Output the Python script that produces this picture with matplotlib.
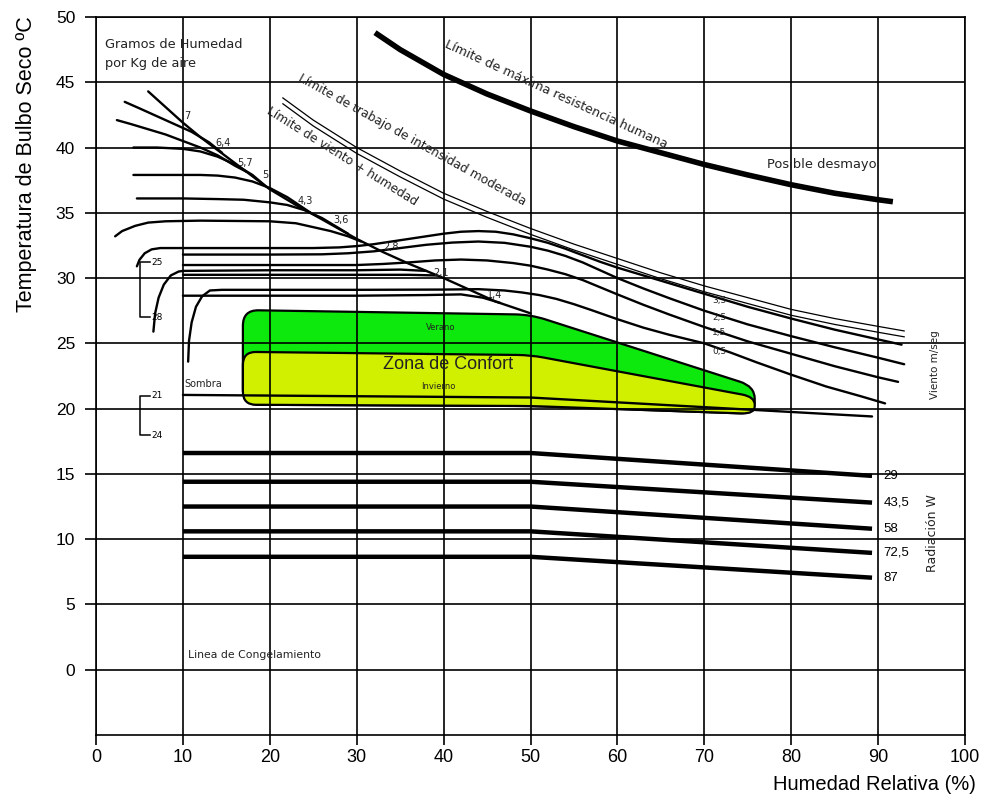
import numpy as np
import matplotlib
matplotlib.use("Agg")
import matplotlib.pyplot as plt
from matplotlib.path import Path
from matplotlib.patches import PathPatch
from matplotlib import font_manager

# ---------------- datos ----------------
hr_ticks = list(range(0, 101, 10))
t_ticks = list(range(0, 51, 5))

# limite de maxima resistencia humana (linea gruesa)
max_res_x = [32.1, 35, 40, 45, 50, 55, 60, 65, 70, 75, 80, 85, 90, 91.7]
max_res_y = [48.8, 47.5, 45.6, 44.1, 42.8, 41.6, 40.5, 39.6, 38.7, 37.9, 37.15, 36.5, 36.0, 35.85]

# limite de trabajo de intensidad moderada (linea doble)
trabajo_x = [21.5, 25, 30, 35, 40, 45, 50, 55, 60, 65, 70, 75, 80, 85, 90, 93]
trabajo_y = [43.8, 42.1, 40.0, 38.2, 36.5, 35.1, 33.8, 32.6, 31.5, 30.4, 29.4, 28.5, 27.6, 26.9, 26.3, 25.95]

# gramos de humedad por kg de aire
hum_7_x = [6.0, 8, 10, 12, 15, 18, 20, 23, 26, 30, 33, 36, 40, 43, 46, 50]
hum_7_y = [44.3, 43.1, 41.9, 40.8, 39.3, 37.8, 36.8, 35.6, 34.5, 33.0, 32.0, 31.1, 30.0, 29.1, 28.2, 27.3]
hum_64_x = [3.3, 5, 7, 9, 11, 13, 14.5]
hum_64_y = [43.5, 43.0, 42.4, 41.8, 41.2, 40.4, 39.6]
hum_57_x = [2.4, 4, 6, 8, 10, 12, 14, 16, 17.3]
hum_57_y = [42.1, 41.8, 41.4, 41.0, 40.5, 40.0, 39.4, 38.6, 38.15]
hum_5_x = [4.3, 7, 10, 12, 14, 16, 18, 19.5]
hum_5_y = [40.0, 40.0, 39.9, 39.7, 39.3, 38.7, 37.9, 37.05]
hum_43_x = [4.3, 8, 12, 14, 16, 18, 20, 22, 24.7]
hum_43_y = [37.9, 37.9, 37.9, 37.85, 37.7, 37.4, 36.9, 36.2, 35.0]
hum_36_x = [4.7, 10, 14, 17, 20, 22, 24, 26, 28, 29]
hum_36_y = [36.1, 36.1, 36.05, 36.0, 35.8, 35.6, 35.2, 34.6, 33.8, 33.4]
hum_28_x = [2.2, 3, 4.5, 6, 8, 12, 20, 23, 25, 27, 29, 30.5]
hum_28_y = [33.2, 33.6, 34.0, 34.25, 34.35, 34.4, 34.35, 34.2, 33.9, 33.6, 33.2, 32.8]
hum_labels = ["7", "6,4", "5,7", "5", "4,3", "3,6", "2,8", "2,1", "1,4"]
hum_label_x = [10.2, 13.7, 16.3, 19.1, 23.2, 27.3, 33.0, 38.8, 45.0]
hum_label_y = [42.4, 40.35, 38.8, 37.9, 35.9, 34.45, 32.4, 30.4, 28.7]

# lineas de viento (m/seg)
viento_1_x = [4.7, 5.0, 5.6, 6.4, 7.4, 15, 25, 28, 30, 32, 34, 36, 38, 40, 42, 44, 46, 48, 50,
              52, 54, 56, 58, 60, 63, 66, 70, 75, 80, 85, 90, 92.7]
viento_1_y = [30.9, 31.4, 31.9, 32.2, 32.3, 32.3, 32.3, 32.35, 32.45, 32.6, 32.8, 33.0, 33.2, 33.4,
              33.55, 33.6, 33.55, 33.35, 33.05, 32.7, 32.25, 31.75, 31.25, 30.8, 30.2, 29.6, 28.8,
              27.8, 26.9, 26.05, 25.3, 24.9]
viento_2_x = [10, 20, 26, 29, 32, 35, 38, 41, 44, 47, 50, 52, 54, 56, 58, 60, 63, 66, 70, 75, 80,
              85, 90, 93]
viento_2_y = [31.8, 31.8, 31.82, 31.9, 32.05, 32.3, 32.55, 32.72, 32.8, 32.7, 32.4, 32.1, 31.7,
              31.2, 30.6, 30.0, 29.2, 28.45, 27.5, 26.45, 25.55, 24.7, 23.9, 23.4]
viento_3_x = [10, 30, 33, 36, 39, 42, 45, 48, 50, 52, 54, 56, 58, 60, 63, 66, 70, 75, 80, 85, 90,
              92.3]
viento_3_y = [31.0, 31.0, 31.08, 31.2, 31.35, 31.42, 31.35, 31.15, 30.95, 30.65, 30.3, 29.85, 29.3,
              28.75, 27.95, 27.2, 26.25, 25.15, 24.2, 23.25, 22.4, 22.05]
viento_4_x = [10.6, 10.7, 11.0, 11.5, 12.2, 13.1, 14.5, 30, 40, 44, 47, 49, 51, 53, 55, 57, 60, 63,
              66, 70, 73, 76, 80, 84, 88, 90.8]
viento_4_y = [23.6, 25.2, 26.6, 27.8, 28.6, 29.05, 29.1, 29.1, 29.12, 29.15, 29.05, 28.9, 28.7,
              28.4, 28.0, 27.55, 26.85, 26.2, 25.65, 25.0, 24.3, 23.55, 22.6, 21.7, 20.95, 20.4]
viento_b_x = [6.6, 6.8, 7.2, 7.8, 8.6, 9.5, 10, 20, 30, 35, 38]
viento_b_y = [25.9, 27.3, 28.5, 29.5, 30.2, 30.5, 30.55, 30.6, 30.6, 30.65, 30.55]
viento_c_x = [10, 20, 30, 36, 39.2]
viento_c_y = [30.25, 30.25, 30.25, 30.25, 30.2]
viento_d_x = [10, 20, 30, 38, 42, 44.5, 46.5]
viento_d_y = [28.65, 28.65, 28.65, 28.7, 28.75, 28.5, 28.1]
viento_labels = ["3,5", "2,5", "1,5", "0,5"]
viento_label_y = [28.25, 26.95, 25.8, 24.4]

# zona de confort
verano_x = [16.9, 16.9, 50, 75.8, 75.8, 50]
verano_y = [20.3, 27.55, 27.2, 21.7, 19.6, 20.2]
invierno_x = [16.9, 16.9, 50, 75.8, 75.8, 50]
invierno_y = [20.3, 24.35, 24.1, 20.9, 19.6, 20.2]
sombra_x = [10, 50, 89.3]
sombra_y = [21.05, 20.85, 19.4]

# radiacion W
rad_labels = ["29", "43,5", "58", "72,5", "87"]
rad_x = [10, 50, 89.3]
rad_y = [[16.6, 16.6, 14.85],
         [14.4, 14.4, 12.8],
         [12.5, 12.5, 10.8],
         [10.6, 10.6, 8.95],
         [8.65, 8.65, 7.05]]

# ---------------- figura ----------------
names = {f.name for f in font_manager.fontManager.ttflist}
narrow = "Liberation Sans Narrow" if "Liberation Sans Narrow" in names else "Liberation Sans"

fig = plt.figure(figsize=(9.84, 8.01), dpi=100)
ax = fig.add_axes([0.0976, 0.0824, 0.8831, 0.8964])
ax.set_xlim(0, 100)
ax.set_ylim(-5, 50)
ax.set_xticks(hr_ticks)
ax.set_yticks(t_ticks)
ax.grid(True, color="black", lw=1.2)
ax.set_axisbelow(False)
for s in ax.spines.values():
    s.set_linewidth(1.2)
ax.tick_params(axis="y", length=8, width=1.2, pad=7, labelsize=12.5)
ax.tick_params(axis="x", length=7, width=1.2, pad=3, labelsize=13)
for lab in ax.get_yticklabels():
    lab.set_fontfamily("Liberation Sans")
for lab in ax.get_xticklabels():
    lab.set_fontfamily(narrow)

ax.set_ylabel("Temperatura de Bulbo Seco ºC", fontsize=15.5, family="Liberation Sans")
ax.yaxis.set_label_coords(-0.068, 0.795)
ax.set_xlabel("Humedad Relativa (%)", fontsize=14.5, family="Liberation Sans", ha="right")
ax.xaxis.set_label_coords(1.012, -0.056)


def rounded_patch(xs, ys, r=1.5, ky=1.5, **kw):
    # poligono con esquinas redondeadas (y escalado para aspecto de pixel)
    pts = np.column_stack([xs, np.asarray(ys, float) * ky])
    n = len(pts)
    verts, codes = [], []
    for i in range(n):
        p0, p1, p2 = pts[i - 1], pts[i], pts[(i + 1) % n]
        d1, d2 = p0 - p1, p2 - p1
        a = p1 + d1 * min(0.45, r / np.hypot(*d1))
        b = p1 + d2 * min(0.45, r / np.hypot(*d2))
        verts += [a, p1, b]
        codes += [Path.LINETO, Path.CURVE3, Path.CURVE3]
    codes[0] = Path.MOVETO
    verts.append(verts[0])
    codes.append(Path.CLOSEPOLY)
    verts = np.array(verts)
    verts[:, 1] /= ky
    return PathPatch(Path(verts, codes), **kw)


ax.add_patch(rounded_patch(verano_x, verano_y, r=1.8, facecolor="#0DE80D",
                           edgecolor="black", lw=1.6, zorder=1))
ax.add_patch(rounded_patch(invierno_x, invierno_y, r=1.5, facecolor="#D0F000",
                           edgecolor="black", lw=1.6, zorder=1.1))

thin = dict(color="black", lw=1.7, solid_capstyle="round", solid_joinstyle="round", zorder=2)
for xs, ys in [(hum_7_x, hum_7_y), (hum_64_x, hum_64_y), (hum_57_x, hum_57_y),
               (hum_5_x, hum_5_y), (hum_43_x, hum_43_y), (hum_36_x, hum_36_y),
               (hum_28_x, hum_28_y)]:
    ax.plot(xs, ys, **thin)
for xs, ys in [(viento_1_x, viento_1_y), (viento_2_x, viento_2_y),
               (viento_3_x, viento_3_y), (viento_4_x, viento_4_y),
               (viento_b_x, viento_b_y), (viento_c_x, viento_c_y),
               (viento_d_x, viento_d_y)]:
    ax.plot(xs, ys, **thin)
ax.plot(sombra_x, sombra_y, **thin)

ax.plot(max_res_x, max_res_y, color="black", lw=4, solid_capstyle="butt",
        solid_joinstyle="round", zorder=2)
ax.plot(trabajo_x, trabajo_y, color="black", lw=0.9, zorder=2)
ax.plot(trabajo_x, [v - 0.45 for v in trabajo_y], color="black", lw=0.9, zorder=2)

for ys in rad_y:
    ax.plot(rad_x, ys, color="black", lw=3.2, solid_capstyle="butt", zorder=2)
for lab, ys in zip(rad_labels, rad_y):
    ax.text(90.6, ys[-1], lab, fontsize=9.5, family="Liberation Sans", ha="left", va="center")

# corchetes 25-28 y 21-24
for top, bot in [(31.2, 27.0), (21.0, 17.95)]:
    ax.plot([6.2, 5.1, 5.1, 6.2], [top, top, bot, bot], color="black", lw=1.1, zorder=2)
for lab, yy in [("25", 31.2), ("28", 27.0), ("21", 21.0), ("24", 17.95)]:
    ax.text(6.4, yy, lab, fontsize=6.5, ha="left", va="center")

txt = "#222222"
for lab, xx, yy in zip(hum_labels, hum_label_x, hum_label_y):
    ax.text(xx, yy, lab, fontsize=7, ha="left", va="center", color=txt)
for lab, yy in zip(viento_labels, viento_label_y):
    ax.text(70.9, yy, lab, fontsize=6.5, ha="left", va="center", color=txt)

ax.text(1.0, 47.9, "Gramos de Humedad", fontsize=9.3, ha="left", va="center", color=txt)
ax.text(1.0, 46.4, "por Kg de aire", fontsize=9.3, ha="left", va="center", color=txt)
ax.text(53.0, 44.1, "Límite de máxima resistencia humana", fontsize=9.1, rotation=-24.6,
        rotation_mode="anchor", ha="center", va="center", color=txt)
ax.text(36.4, 40.6, "Límite de trabajo de intensidad moderada", fontsize=8.8, rotation=-29,
        rotation_mode="anchor", ha="center", va="center", color=txt)
ax.text(28.3, 39.35, "Límite de viento + humedad", fontsize=8.8, rotation=-32,
        rotation_mode="anchor", ha="center", va="center", color=txt)
ax.text(77.2, 38.7, "Posible desmayo", fontsize=9.4, ha="left", va="center", color=txt)
ax.text(40.5, 23.4, "Zona de Confort", fontsize=13, family="Liberation Sans",
        ha="center", va="center", color=txt)
ax.text(39.7, 26.2, "Verano", fontsize=6, ha="center", va="center", color=txt)
ax.text(39.4, 21.7, "Invierno", fontsize=6, ha="center", va="center", color=txt)
ax.text(10.2, 21.9, "Sombra", fontsize=7, ha="left", va="center", color=txt)
ax.text(10.6, 1.15, "Linea de Congelamiento", fontsize=7.8, ha="left", va="center", color=txt)
ax.text(96.5, 23.4, "Viento m/seg", fontsize=7.5, rotation=90, ha="center", va="center", color=txt)
ax.text(96.3, 10.5, "Radiación W", fontsize=9, rotation=90, ha="center", va="center", color=txt)

fig.savefig("out.png", dpi=100)
